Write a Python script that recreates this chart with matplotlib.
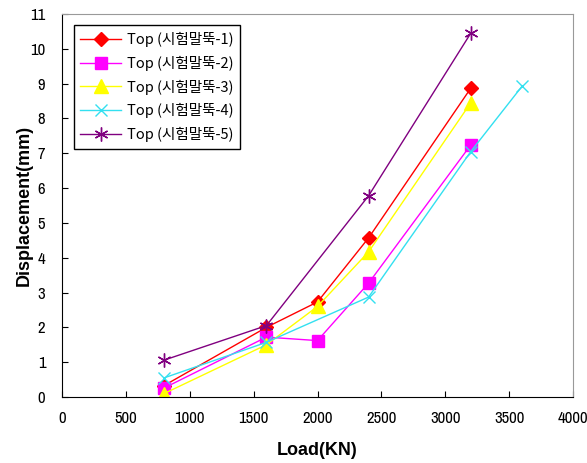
import matplotlib
matplotlib.use("Agg")
import matplotlib.pyplot as plt
from matplotlib import font_manager

plt.rcParams['font.family'] = ['Liberation Sans', 'Noto Sans CJK KR', 'DejaVu Sans']

x_ticks = [0, 500, 1000, 1500, 2000, 2500, 3000, 3500, 4000]
y_ticks = list(range(0, 12))

s1_x = [800, 1600, 2000, 2400, 3200]
s1_y = [0.33, 2.0, 2.73, 4.57, 8.87]
s2_x = [800, 1600, 2000, 2400, 3200]
s2_y = [0.26, 1.72, 1.62, 3.27, 7.24]
s3_x = [800, 1600, 2000, 2400, 3200]
s3_y = [0.1, 1.5, 2.6, 4.17, 8.45]
s4_x = [800, 1600, 2400, 3200, 3600]
s4_y = [0.55, 1.57, 2.87, 7.05, 8.92]
s5_x = [800, 1600, 2400, 3200]
s5_y = [1.06, 2.05, 5.78, 10.45]

labels = ['Top (시험말뚝-1)', 'Top (시험말뚝-2)', 'Top (시험말뚝-3)',
          'Top (시험말뚝-4)', 'Top (시험말뚝-5)']


def wnum(w):
    if isinstance(w, (int, float)):
        return w
    return font_manager.weight_dict.get(w, 400)


condensed = [f for f in font_manager.fontManager.ttflist
             if (f.stretch in ('condensed', 'semi-condensed', 'extra-condensed', 'ultra-condensed', 600, 700)
                 or 'Narrow' in f.name or 'Condensed' in f.name) and f.style == 'normal']
tick_fp = None
if condensed:
    pick = sorted(condensed, key=lambda f: ('Narrow' not in f.name, abs(wnum(f.weight) - 400)))[0]
    tick_fp = font_manager.FontProperties(fname=pick.fname, size=12)

fig = plt.figure(figsize=(5.87, 4.63), dpi=100)
ax = fig.add_axes([62/587, 1-397/463, (573-62)/587, (397-14)/463])

ax.plot(s1_x, s1_y, color='#FF0000', marker='D', markersize=7.5, lw=1, label=labels[0])
ax.plot(s2_x, s2_y, color='#FF00FF', marker='s', markersize=8.5, lw=1, label=labels[1])
ax.plot(s3_x, s3_y, color='#FFFF00', marker='^', markersize=9.5, lw=1, label=labels[2])
ax.plot(s4_x, s4_y, color='#33E0F0', marker='x', markersize=9, mew=1, lw=1, label=labels[3])
ax.plot(s5_x, s5_y, color='#800080', marker=(6, 2, 0), markersize=10, mew=1, lw=1, label=labels[4])

ax.set_xlim(0, 4000)
ax.set_ylim(0, 11)
ax.set_xticks(x_ticks)
ax.set_yticks(y_ticks)
ax.tick_params(direction='in', length=4, labelsize=10)
ax.tick_params(axis='x', pad=10)
ax.tick_params(axis='y', pad=12)
for lab in ax.get_xticklabels() + ax.get_yticklabels():
    if tick_fp is not None:
        lab.set_fontproperties(tick_fp)
    else:
        lab.set_fontsize(9.5)
ax.spines['top'].set_color('#999999')
ax.spines['right'].set_color('#999999')

ax.set_xlabel('Load(KN)', fontsize=13, fontweight='bold')
ax.set_ylabel('Displacement(mm)', fontsize=13, fontweight='bold')
ax.yaxis.set_label_coords(-0.057, 0.5)
ax.xaxis.set_label_coords(0.5, -0.118)

leg = ax.legend(loc='upper left', bbox_to_anchor=(0.009, 0.99),
                frameon=True, fancybox=False, edgecolor='black', framealpha=1,
                handlelength=2.8, labelspacing=0.6, borderpad=0.45, handletextpad=0.4,
                prop={'family': ['Noto Sans CJK KR', 'DejaVu Sans'], 'size': 10.5})
leg.get_frame().set_linewidth(1)

fig.savefig('out.png', dpi=100)
